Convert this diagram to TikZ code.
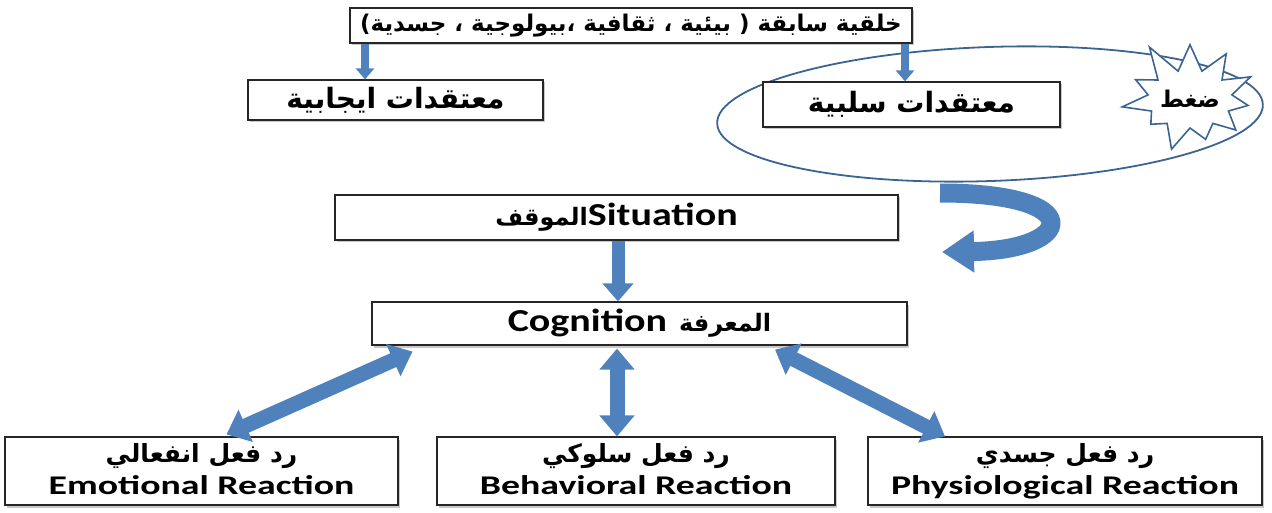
\documentclass[tikz,border=0pt]{standalone}
\usepackage{fontspec}
\usepackage{graphicx}
\usetikzlibrary{arrows.meta,shadows,shapes.geometric,shapes.symbols,calc}
\TeXXeTstate=1
\newfontfamily\ar[Script=Arabic]{DejaVu Sans}
\newfontfamily\lat{Carlito}
\newcommand\latw[3]{{\lat\bfseries\fontsize{#1}{#1}\selectfont\scalebox{#2}[1]{\vphantom{gy}#3}}}
\newcommand\arw[2]{{\ar\bfseries\fontsize{#1}{#1}\selectfont #2}}
\definecolor{arrowblue}{HTML}{4F81BD}
\definecolor{edgeblue}{HTML}{3C6491}
\begin{document}
\begin{tikzpicture}[x=1pt,y=-1pt,
  box/.style={draw=black!85, line width=1.2pt, fill=white, inner sep=0pt, align=center,
    drop shadow={shadow xshift=1.5pt, shadow yshift=-2.5pt, fill=gray!60, opacity=0.7}},
  smallarr/.style={draw=arrowblue, line width=8pt, -{Triangle[width=18pt,length=11pt]}},
  midarr/.style={draw=arrowblue, line width=13pt, -{Triangle[width=30pt,length=18pt]}},
  dblarr/.style={draw=arrowblue, line width=15pt, {Triangle[width=34pt,length=21pt]}-{Triangle[width=34pt,length=21pt]}}
]
\useasboundingbox (0,0) rectangle (1272,513);

% ellipse and starburst
\node[ellipse, draw=edgeblue, line width=1.8pt, minimum width=546pt, minimum height=134pt, rotate=2] (ell) at (990,114) {};
\node[starburst, starburst points=11, starburst point height=34pt, random starburst=11,
  minimum width=114pt, minimum height=126pt, draw=edgeblue, fill=white, line width=1.6pt,
  inner sep=0pt] (stress) at (1190,99) {\arw{23}{\beginR ضغط\endR}};

% boxes
\node[box, minimum width=562pt, minimum height=35pt] (top) at (631,25.5)
  {\arw{23}{\beginR خلقية سابقة ( بيئية ، ثقافية ،بيولوجية ، جسدية)\endR}};
\node[box, minimum width=295pt, minimum height=40pt] (pos) at (395.5,100)
  {\arw{28}{\beginR معتقدات ايجابية\endR}};
\node[box, minimum width=297pt, minimum height=45pt] (neg) at (911.5,104.5)
  {\arw{28}{\beginR معتقدات سلبية\endR}};
\node[box, minimum width=563pt, minimum height=45pt] (sit) at (616.5,217.5)
  {\arw{24}{\beginR الموقف\endR}\latw{32}{1.25}{Situation}};
\node[box, minimum width=535pt, minimum height=43pt] (cog) at (639.5,323.5)
  {\latw{32}{1.25}{Cognition}\hspace{12pt}\arw{24}{\beginR المعرفة\endR}};
\node[box, minimum width=393pt, minimum height=68pt, font=\fontsize{24}{32}\selectfont] (emo) at (201.5,471)
  {\arw{25}{\beginR رد فعل انفعالي\endR}\\\latw{27}{1.4}{Emotional Reaction}};
\node[box, minimum width=398pt, minimum height=68pt, font=\fontsize{24}{32}\selectfont] (beh) at (636,471)
  {\arw{25}{\beginR رد فعل سلوكي\endR}\\\latw{27}{1.4}{Behavioral Reaction}};
\node[box, minimum width=394pt, minimum height=68pt, font=\fontsize{24}{32}\selectfont] (phy) at (1065,471)
  {\arw{25}{\beginR رد فعل جسدي\endR}\\\latw{27}{1.4}{Physiological Reaction}};

% arrows
\draw[smallarr] (top.south -| 365,0) -- (pos.north -| 365,0);
\draw[smallarr] (top.south -| 905,0) -- (neg.north -| 905,0);
\draw[midarr] (sit.south -| 618,0) -- (cog.north -| 618,0);
\draw[dblarr] ([shift={(-227,6)}]cog.south) -- ([shift={(25,-2)}]emo.north);
\draw[dblarr] ([shift={(-22.5,3)}]cog.south) -- ([shift={(-19,0)}]beh.north);
\draw[dblarr] ([shift={(135.5,4)}]cog.south) -- ([shift={(-120,0)}]phy.north);

% curved arrow from ellipse to situation
\coordinate (cstart) at (940,193);
\coordinate (cend) at (942,252);
\draw[draw=arrowblue, line width=19pt, -{Triangle[width=40pt,length=32pt]}]
  (cstart) .. controls (1090,193) and (1075,250) .. (cend);
\end{tikzpicture}
\end{document}
